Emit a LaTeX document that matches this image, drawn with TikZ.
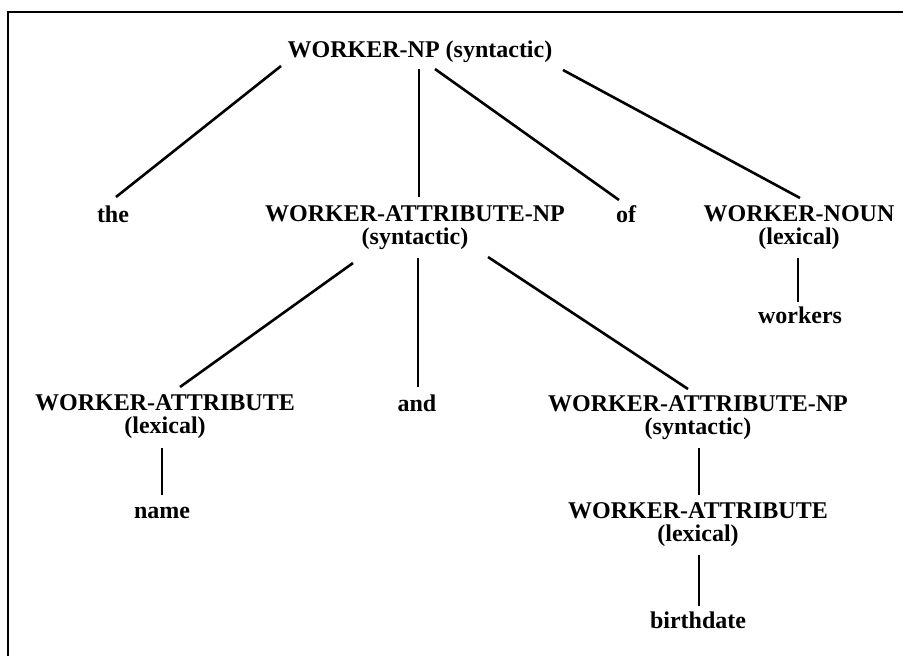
\documentclass[tikz,border=0pt]{standalone}
\usepackage{fontspec}
\setmainfont{Liberation Serif}
\usetikzlibrary{calc}
\begin{document}
\begin{tikzpicture}[x=1pt,y=-1pt,
  lbl/.style={anchor=base,align=center,inner sep=0pt,font=\fontsize{24}{22.5}\selectfont\bfseries},
  edge/.style={line width=2.6pt},
  frame/.style={line width=2.2pt}]
\useasboundingbox (0,0) rectangle (903,656);
\draw[frame] (8,656) -- (8,12) -- (903,12);
\node[lbl] (root) at (420,57) {WORKER-NP (syntactic)};
\node[lbl] (the) at (113,222) {the};
\node[lbl] (wanp) at (415,244) {WORKER-ATTRIBUTE-NP\\(syntactic)};
\node[lbl] (of) at (626,222) {of};
\node[lbl] (wanc) at (799,244) {WORKER-NOUN\\(lexical)};
\node[lbl] (workers) at (800,323) {workers};
\node[lbl] (wal) at (165,433) {WORKER-ATTRIBUTE\\(lexical)};
\node[lbl] (and) at (417,411) {and};
\node[lbl] (wanp2) at (698,434) {WORKER-ATTRIBUTE-NP\\(syntactic)};
\node[lbl] (name) at (162,518) {name};
\node[lbl] (wa2) at (698,541) {WORKER-ATTRIBUTE\\(lexical)};
\node[lbl] (birth) at (698,628) {birthdate};
\draw[edge] ($(root.base)+(-139,9)$) -- ($(the.base)+(3,-25)$);
\draw[edge] ($(root.base)+(-1,12)$) -- ($(wanp.base)+(4,-47)$);
\draw[edge] ($(root.base)+(15,12)$) -- ($(of.base)+(-7,-22)$);
\draw[edge] ($(root.base)+(143,13)$) -- ($(wanc.base)+(1,-46)$);
\draw[edge] ($(wanp.base)+(-62,19)$) -- ($(wal.base)+(15,-46)$);
\draw[edge] ($(wanp.base)+(3,14)$) -- ($(and.base)+(1,-24)$);
\draw[edge] ($(wanp.base)+(73,13)$) -- ($(wanp2.base)+(-10,-45)$);
\draw[edge] ($(wanc.base)+(-1,14)$) -- ($(workers.base)+(-2,-21)$);
\draw[edge] ($(wal.base)+(-3,15)$) -- ($(name.base)+(0,-23)$);
\draw[edge] ($(wanp2.base)+(1,14)$) -- ($(wa2.base)+(1,-46)$);
\draw[edge] ($(wa2.base)+(1,14)$) -- ($(birth.base)+(1,-22)$);
\end{tikzpicture}
\end{document}
